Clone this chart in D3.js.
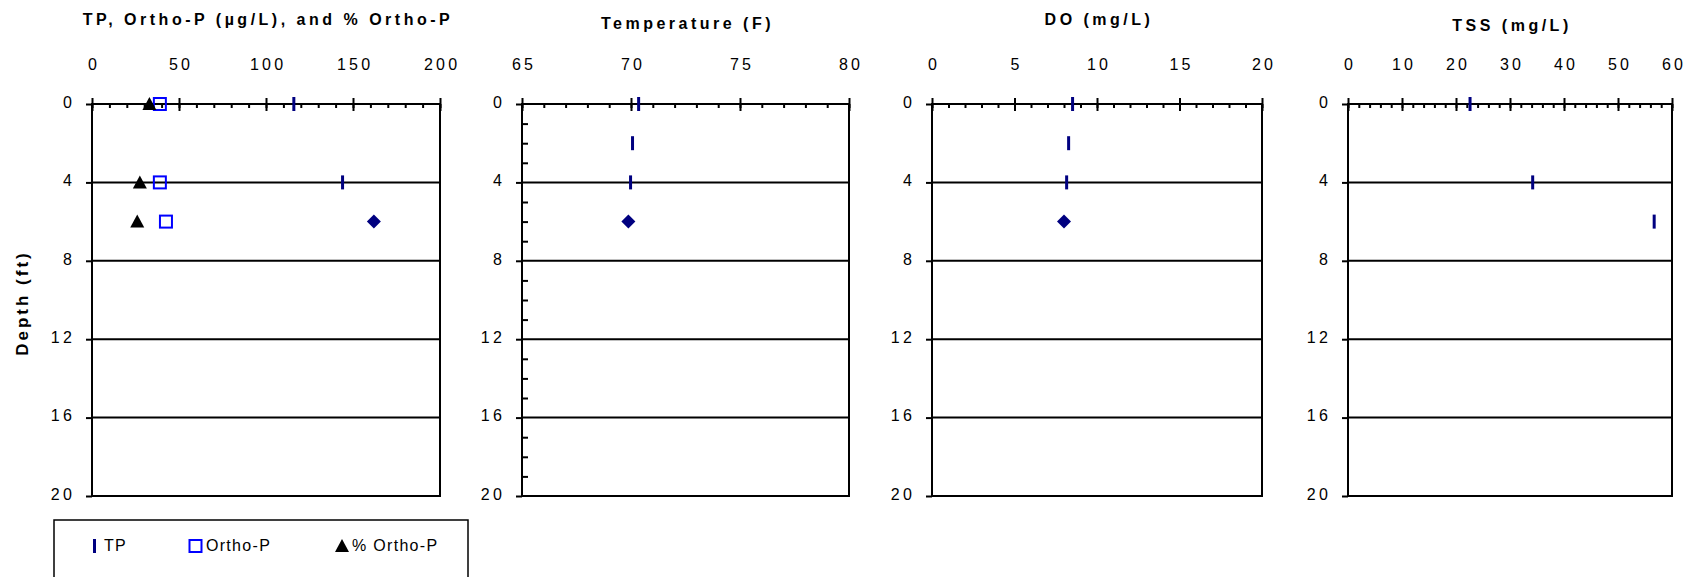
<!DOCTYPE html>
<html>
<head>
<meta charset="utf-8">
<script src="https://cdn.jsdelivr.net/npm/d3@7"></script>
<style>
body { margin: 0; background: #fff; }
text { font-family: "Liberation Sans", Arial, sans-serif; fill: #000; }
</style>
</head>
<body>
<div id="chart"></div>
<script>
var width = 1692,
    height = 577;

// depth axis (shared)
var depthTicks = [0, 4, 8, 12, 16, 20];
var gridDepths = [4, 8, 12, 16];

// panel 1: TP, Ortho-P, % Ortho-P
var tpDepths = [0, 4],
    tpValues = [116, 144],
    tpBottomDepths = [6],
    tpBottomValues = [162];
var orthoDepths = [0, 4, 6],
    orthoValues = [39, 39, 42.5];
var pctDepths = [0, 4, 6],
    pctValues = [33, 27.5, 26];

// panel 2: temperature
var tempDepths = [0, 2, 4],
    tempValues = [70.35, 70.07, 69.98],
    tempBottomDepths = [6],
    tempBottomValues = [69.88];

// panel 3: DO
var doDepths = [0, 2, 4],
    doValues = [8.52, 8.28, 8.16],
    doBottomDepths = [6],
    doBottomValues = [8.0];

// panel 4: TSS
var tssDepths = [0, 4, 6],
    tssValues = [22.6, 34.2, 56.7];

var titles = ['TP, Ortho-P (\u00b5g/L), and % Ortho-P', 'Temperature (F)', 'DO (mg/L)', 'TSS (mg/L)'];
var legendLabels = ['TP', 'Ortho-P', '% Ortho-P'];

function zip(depths, values) {
    return depths.map(function(d, i) { return { depth: d, value: values[i] }; });
}

var panels = [
    { title: titles[0], titleY: 24.5, x0: 92, x1: 440, domain: [0, 200], major: 50, minor: 10, minorY: false,
      series: [
        { type: 'dash', data: zip(tpDepths, tpValues) },
        { type: 'diamond', data: zip(tpBottomDepths, tpBottomValues) },
        { type: 'square', data: zip(orthoDepths, orthoValues) },
        { type: 'triangle', data: zip(pctDepths, pctValues) }
      ] },
    { title: titles[1], titleY: 29, x0: 522, x1: 849, domain: [65, 80], major: 5, minor: 1, minorY: true,
      series: [
        { type: 'dash', data: zip(tempDepths, tempValues) },
        { type: 'diamond', data: zip(tempBottomDepths, tempBottomValues) }
      ] },
    { title: titles[2], titleY: 25, x0: 932, x1: 1262, domain: [0, 20], major: 5, minor: 1, minorY: false,
      series: [
        { type: 'dash', data: zip(doDepths, doValues) },
        { type: 'diamond', data: zip(doBottomDepths, doBottomValues) }
      ] },
    { title: titles[3], titleY: 30.5, x0: 1348, x1: 1672, domain: [0, 60], major: 10, minor: 2, minorY: false,
      series: [
        { type: 'dash', data: zip(tssDepths, tssValues) }
      ] }
];

var svg = d3.select('#chart')
            .append('svg')
            .attr('width', width)
            .attr('height', height);

var yScale = d3.scaleLinear()
               .domain([0, 20])
               .range([104, 496]);

var navy = '#000080',
    blue = '#0000ff';

function drawMarker(sel, type) {
    if (type === 'dash') {
        sel.append('rect')
           .attr('x', -1.5).attr('y', -7)
           .attr('width', 3).attr('height', 14)
           .attr('fill', navy);
    } else if (type === 'diamond') {
        sel.append('path')
           .attr('d', 'M0,-7L7,0L0,7L-7,0Z')
           .attr('fill', navy);
    } else if (type === 'square') {
        sel.append('rect')
           .attr('x', -6).attr('y', -6)
           .attr('width', 12).attr('height', 12)
           .attr('fill', 'none')
           .attr('stroke', blue)
           .attr('stroke-width', 2);
    } else if (type === 'triangle') {
        sel.append('path')
           .attr('d', 'M0,-7L7,6L-7,6Z')
           .attr('fill', '#000');
    }
}

panels.forEach(function(p) {
    var x = d3.scaleLinear().domain(p.domain).range([p.x0, p.x1]);
    var g = svg.append('g');

    //horizontal grid
    g.selectAll('line.grid')
     .data(gridDepths)
     .enter().append('line')
     .attr('x1', p.x0).attr('x2', p.x1)
     .attr('y1', function(d) { return yScale(d); })
     .attr('y2', function(d) { return yScale(d); })
     .attr('stroke', '#000')
     .attr('stroke-width', 2);

    //minor x ticks (inside)
    var minorVals = d3.range(p.domain[0], p.domain[1] + p.minor / 2, p.minor);
    var minorAxis = d3.axisTop(x).tickValues(minorVals).tickSize(-4).tickFormat('');
    var gm = g.append('g').attr('transform', 'translate(0,104)').call(minorAxis);
    gm.select('.domain').remove();
    gm.selectAll('.tick line').attr('stroke-width', 2);

    //major x ticks (cross)
    var majorVals = d3.range(p.domain[0], p.domain[1] + p.major / 2, p.major);
    var xAxis = d3.axisTop(x).tickValues(majorVals).tickSize(6).tickPadding(28);
    var gx = g.append('g').attr('transform', 'translate(0,104)').call(xAxis);
    gx.select('.domain').remove();
    gx.selectAll('.tick line').attr('y1', 7).attr('stroke-width', 2);
    gx.selectAll('.tick text')
      .attr('font-size', 16)
      .attr('font-family', '"Liberation Sans", Arial, sans-serif')
      .attr('letter-spacing', '3.2px')
      .attr('dx', 1.6);

    //y axis
    var yAxis = d3.axisLeft(yScale).tickValues(depthTicks).tickSize(6).tickPadding(11);
    var gy = g.append('g').attr('transform', 'translate(' + p.x0 + ',0)').call(yAxis);
    gy.select('.domain').remove();
    gy.selectAll('.tick line').attr('stroke-width', 2);
    gy.selectAll('.tick text')
      .attr('font-size', 16)
      .attr('font-family', '"Liberation Sans", Arial, sans-serif')
      .attr('letter-spacing', '3.2px')
      .attr('dy', '0.2em');

    if (p.minorY) {
        var minorY = d3.range(0, 21).filter(function(d) { return d % 4 !== 0; });
        var gmy = g.append('g').attr('transform', 'translate(' + p.x0 + ',0)')
                   .call(d3.axisLeft(yScale).tickValues(minorY).tickSize(-6).tickFormat(''));
        gmy.select('.domain').remove();
        gmy.selectAll('.tick line').attr('stroke-width', 2);
    }

    //frame
    g.append('rect')
     .attr('x', p.x0).attr('y', yScale(0))
     .attr('width', p.x1 - p.x0)
     .attr('height', yScale(20) - yScale(0))
     .attr('fill', 'none')
     .attr('stroke', '#000')
     .attr('stroke-width', 2);

    //title
    g.append('text')
     .attr('x', (p.x0 + p.x1) / 2 + 2)
     .attr('y', p.titleY)
     .attr('text-anchor', 'middle')
     .attr('font-size', 16)
     .attr('font-weight', 'bold')
     .attr('letter-spacing', '3.5px')
     .text(p.title);

    //markers
    p.series.forEach(function(s) {
        g.selectAll(null)
         .data(s.data)
         .enter().append('g')
         .attr('transform', function(d) { return 'translate(' + x(d.value) + ',' + yScale(d.depth) + ')'; })
         .each(function() { drawMarker(d3.select(this), s.type); });
    });
});

//Y-Axis title
svg.append('text')
   .attr('transform', 'translate(28,303) rotate(-90)')
   .attr('text-anchor', 'middle')
   .attr('font-size', 17)
   .attr('font-weight', 'bold')
   .attr('letter-spacing', '3px')
   .text('Depth (ft)');

//legend
var legend = svg.append('g');
legend.append('rect')
      .attr('x', 54).attr('y', 520)
      .attr('width', 414).attr('height', 80)
      .attr('fill', 'none')
      .attr('stroke', '#000')
      .attr('stroke-width', 1.5);

var legendTypes = ['dash', 'square', 'triangle'],
    legendMarkX = [94.5, 195.5, 342],
    legendTextX = [104, 206, 352];

legendLabels.forEach(function(label, i) {
    var m = legend.append('g').attr('transform', 'translate(' + legendMarkX[i] + ',546)');
    drawMarker(m, legendTypes[i]);
    legend.append('text')
          .attr('x', legendTextX[i])
          .attr('y', 551)
          .attr('font-size', 16)
          .attr('letter-spacing', '1.3px')
          .text(label);
});
</script>
</body>
</html>
